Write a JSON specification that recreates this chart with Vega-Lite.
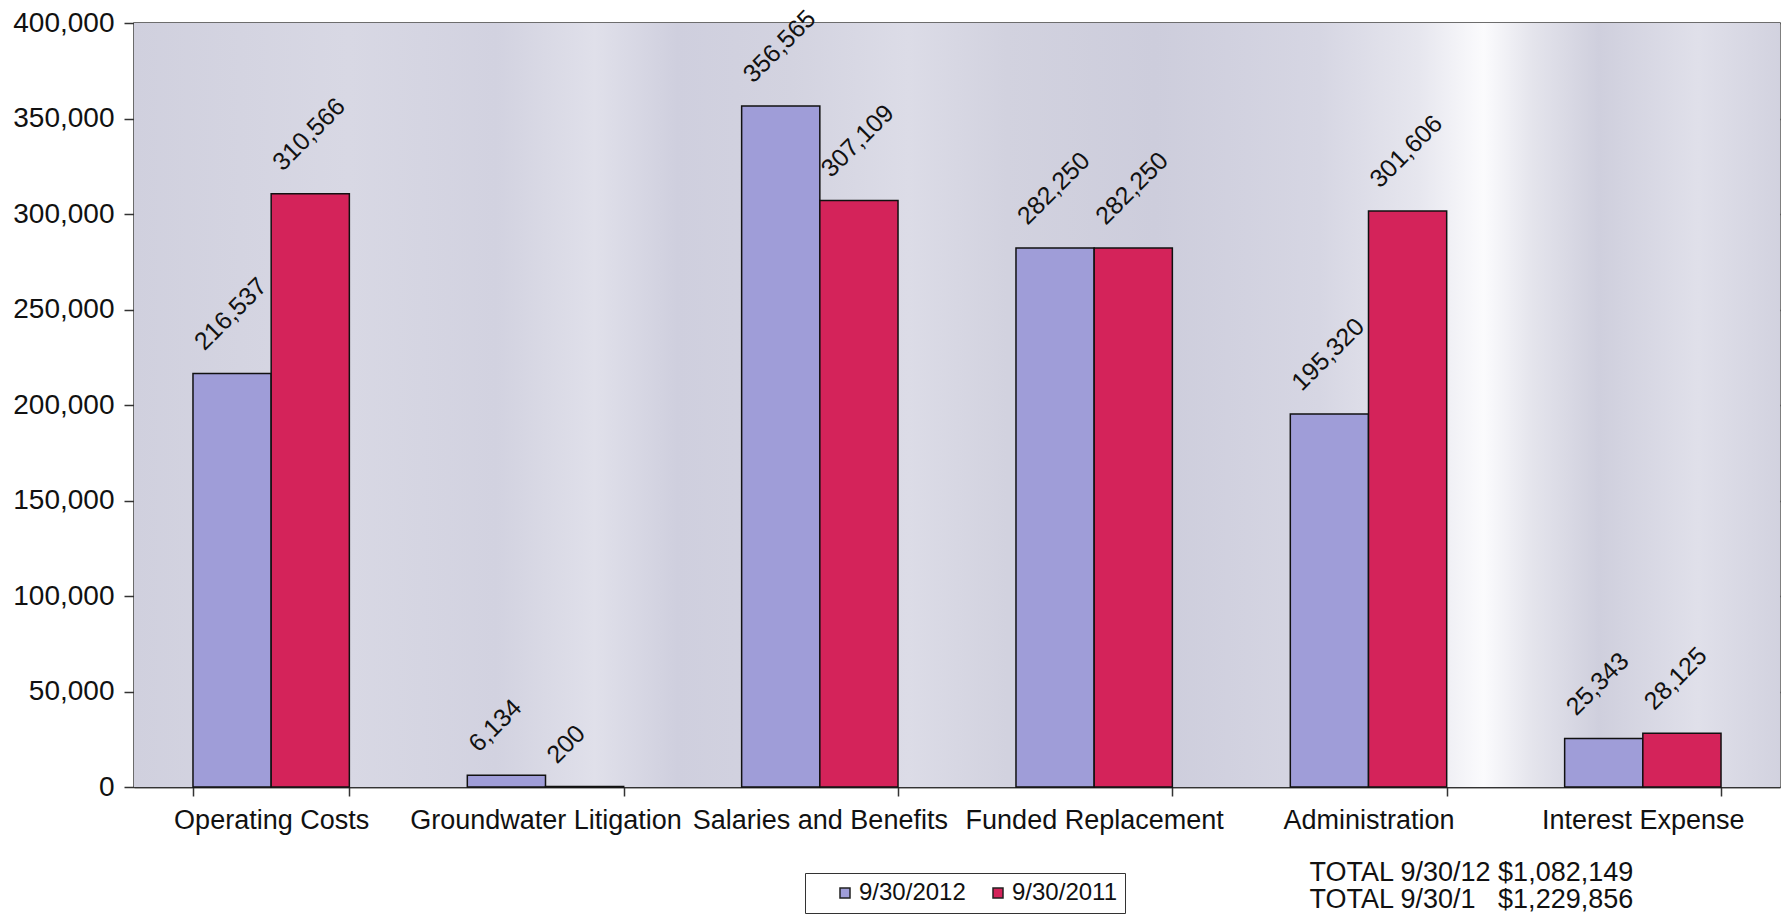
{
  "$schema": "https://vega.github.io/schema/vega-lite/v6.json",
  "autosize": {"type": "none"},
  "width": 1646,
  "height": 764,
  "padding": {"left": 134, "top": 23, "right": 3, "bottom": 131},
  "background": "white",
  "config": {
    "font": "Liberation Sans",
    "view": {"stroke": "#555555", "strokeWidth": 1.5},
    "axis": {"labelFont": "Liberation Sans", "labelColor": "#111111", "titleColor": "#111111"}
  },
  "data": {
    "values": [
      {"category": "Operating Costs", "period": "9/30/2012", "amount": 216537},
      {"category": "Operating Costs", "period": "9/30/2011", "amount": 310566},
      {"category": "Groundwater Litigation", "period": "9/30/2012", "amount": 6134},
      {"category": "Groundwater Litigation", "period": "9/30/2011", "amount": 200},
      {"category": "Salaries and Benefits", "period": "9/30/2012", "amount": 356565},
      {"category": "Salaries and Benefits", "period": "9/30/2011", "amount": 307109},
      {"category": "Funded Replacement", "period": "9/30/2012", "amount": 282250},
      {"category": "Funded Replacement", "period": "9/30/2011", "amount": 282250},
      {"category": "Administration", "period": "9/30/2012", "amount": 195320},
      {"category": "Administration", "period": "9/30/2011", "amount": 301606},
      {"category": "Interest Expense", "period": "9/30/2012", "amount": 25343},
      {"category": "Interest Expense", "period": "9/30/2011", "amount": 28125}
    ]
  },
  "layer": [
    {
      "data": {"values": [{}]},
      "mark": {
        "type": "rect",
        "color": {
          "gradient": "linear", "x1": 0, "x2": 1, "y1": 0, "y2": 0,
          "stops": [
            {"offset": 0.0, "color": "#d0d0de"},
            {"offset": 0.13, "color": "#d8d8e4"},
            {"offset": 0.22, "color": "#d2d2e0"},
            {"offset": 0.28, "color": "#e0e0ea"},
            {"offset": 0.33, "color": "#cfcfde"},
            {"offset": 0.4, "color": "#d3d3e0"},
            {"offset": 0.47, "color": "#dcdce7"},
            {"offset": 0.53, "color": "#d2d2df"},
            {"offset": 0.62, "color": "#cdcddc"},
            {"offset": 0.72, "color": "#d6d6e3"},
            {"offset": 0.78, "color": "#e6e6ee"},
            {"offset": 0.82, "color": "#fbfbfd"},
            {"offset": 0.85, "color": "#e4e4ec"},
            {"offset": 0.89, "color": "#cfcfdd"},
            {"offset": 0.95, "color": "#e0e0ea"},
            {"offset": 1.0, "color": "#d2d2df"}
          ]
        }
      },
      "encoding": {
        "x": {"value": 0},
        "x2": {"value": "width"},
        "y": {"value": 0},
        "y2": {"value": "height"}
      }
    },
    {
      "mark": {"type": "bar", "stroke": "#111111", "strokeWidth": 1.5},
      "encoding": {
        "x": {
          "field": "category", "type": "nominal", "sort": null,
          "scale": {"paddingInner": 0.43, "paddingOuter": 0.215},
          "axis": {
            "labelAngle": 0, "labelFontSize": 27, "labelPadding": 11, "labelLimit": 0,
            "tickBand": "extent", "tickSize": 9, "tickColor": "#333333", "tickWidth": 1.5,
            "domainColor": "#333333", "domainWidth": 1.5,
            "title": ["TOTAL 9/30/12 $1,082,149", "TOTAL 9/30/1\u00a0\u00a0\u00a0$1,229,856"],
            "titleFontSize": 27, "titleFontWeight": "normal", "titleLineHeight": 27,
            "titleAlign": "left", "titleBaseline": "top", "titleX": 1175, "titleY": 72
          }
        },
        "xOffset": {"field": "period", "type": "nominal", "sort": ["9/30/2012", "9/30/2011"]},
        "y": {
          "field": "amount", "type": "quantitative",
          "scale": {"domain": [0, 400000], "nice": false},
          "axis": {
            "values": [0, 50000, 100000, 150000, 200000, 250000, 300000, 350000, 400000],
            "format": ",d", "labelFontSize": 28, "labelPadding": 10,
            "tickSize": 10, "tickColor": "#333333", "tickWidth": 1.5,
            "domainColor": "#333333", "domainWidth": 1.5,
            "gridColor": "#3a3a3a", "gridWidth": 1.5, "title": null
          }
        },
        "color": {
          "field": "period", "type": "nominal",
          "scale": {"domain": ["9/30/2012", "9/30/2011"], "range": ["#9f9dd8", "#d4235a"]},
          "legend": {
            "title": null, "orient": "none", "legendX": 671, "legendY": 850,
            "direction": "horizontal", "symbolType": "square", "symbolSize": 100,
            "symbolStrokeColor": "#222222", "symbolStrokeWidth": 1.5,
            "symbolOffset": 20,
            "labelExpr": "datum.label == '9/30/2011' ? datum.label + '\u00a0\u00a0\u00a0\u00a0\u00a0' : datum.label",
            "labelFontSize": 24, "labelFont": "Liberation Sans", "labelColor": "#111111", "labelOffset": 2,
            "columnPadding": 0, "padding": 8,
            "strokeColor": "#333333", "fillColor": "white"
          }
        }
      }
    },
    {
      "mark": {"type": "text", "angle": 315, "align": "left", "baseline": "alphabetic", "dx": -4, "dy": -35, "fontSize": 25, "font": "Liberation Sans", "color": "#111111"},
      "encoding": {
        "x": {"field": "category", "type": "nominal", "sort": null},
        "xOffset": {"field": "period", "type": "nominal", "sort": ["9/30/2012", "9/30/2011"]},
        "y": {"field": "amount", "type": "quantitative"},
        "text": {"field": "amount", "type": "quantitative", "format": ",d"}
      }
    }
  ]
}
